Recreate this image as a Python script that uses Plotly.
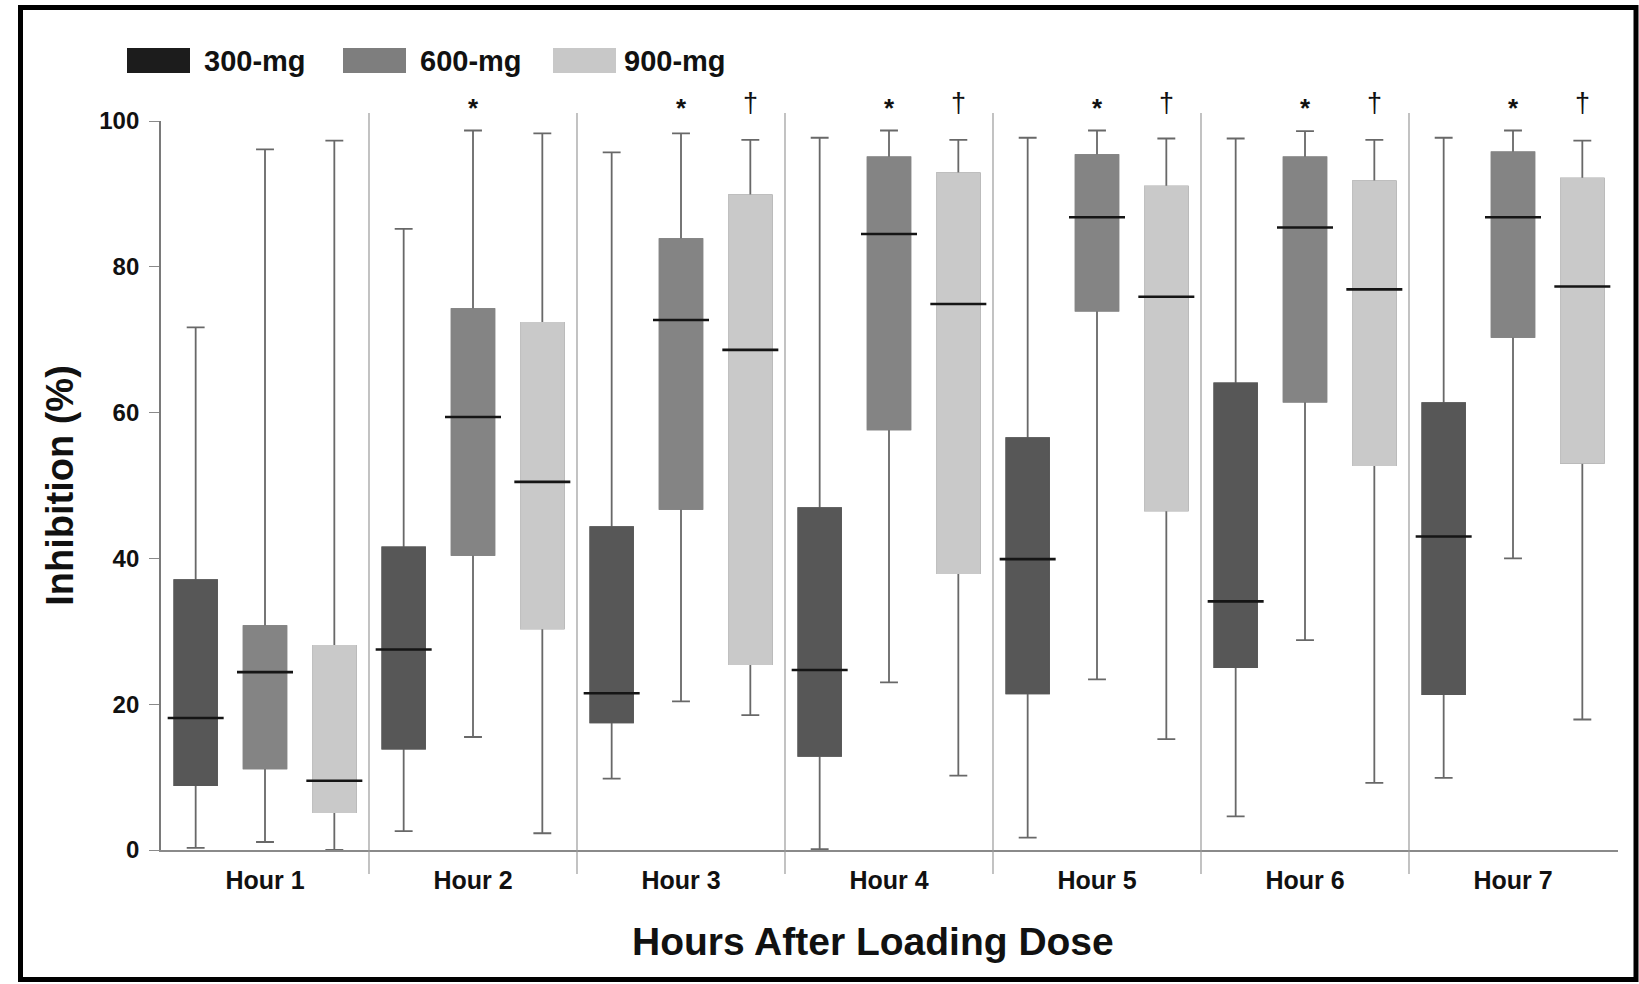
import plotly.graph_objects as go

# ---------------- data ----------------
hours = [1, 2, 3, 4, 5, 6, 7]
hour_labels = ["Hour 1", "Hour 2", "Hour 3", "Hour 4", "Hour 5", "Hour 6", "Hour 7"]
doses = ["300-mg", "600-mg", "900-mg"]

upper_300 = [71.7, 85.2, 95.7, 97.7, 97.7, 97.6, 97.7]
q3_300 = [37.0, 41.5, 44.3, 46.9, 56.5, 64.0, 61.3]
median_300 = [18.1, 27.5, 21.5, 24.7, 39.9, 34.1, 43.0]
q1_300 = [8.9, 13.9, 17.5, 12.9, 21.5, 25.1, 21.4]
lower_300 = [0.3, 2.6, 9.8, 0.1, 1.7, 4.6, 9.9]

upper_600 = [96.1, 98.7, 98.3, 98.7, 98.7, 98.6, 98.7]
q3_600 = [30.7, 74.2, 83.8, 95.0, 95.3, 95.0, 95.7]
median_600 = [24.4, 59.4, 72.7, 84.5, 86.8, 85.4, 86.8]
q1_600 = [11.2, 40.5, 46.8, 57.7, 74.0, 61.5, 70.4]
lower_600 = [1.1, 15.5, 20.4, 23.0, 23.4, 28.8, 40.0]

upper_900 = [97.3, 98.3, 97.4, 97.4, 97.6, 97.4, 97.3]
q3_900 = [28.0, 72.3, 89.8, 92.8, 91.0, 91.7, 92.1]
median_900 = [9.5, 50.5, 68.6, 74.9, 75.9, 76.9, 77.3]
q1_900 = [5.2, 30.4, 25.5, 38.0, 46.6, 52.8, 53.1]
lower_900 = [0.0, 2.3, 18.5, 10.2, 15.2, 9.2, 17.9]

star_hours = [2, 3, 4, 5, 6, 7]      # "*" over the 600-mg box
dagger_hours = [3, 4, 5, 6, 7]       # "†" over the 900-mg box

y_ticks = [0, 20, 40, 60, 80, 100]
x_title = "Hours After Loading Dose"
y_title = "Inhibition (%)"

# ---------------- styles ----------------
box_colors = ["#575757", "#848484", "#c9c9c9"]
legend_colors = ["#1c1c1c", "#7e7e7e", "#c8c8c8"]
whisker_color = "#686868"
offsets = [-1 / 3, 0.0, 1 / 3]
box_width = 0.205
FONT = "Liberation Sans, Arial, sans-serif"

W, H = 1639, 984
L, R, T, B = 161, 1618, 121, 850


def px(x):
    return (x - L) / (R - L)


def py(y):
    return (B - y) / (B - T)


series = [
    (upper_300, q3_300, median_300, q1_300, lower_300),
    (upper_600, q3_600, median_600, q1_600, lower_600),
    (upper_900, q3_900, median_900, q1_900, lower_900),
]

fig = go.Figure()
for i, (up, q3, med, q1, lo) in enumerate(series):
    xs = [h + offsets[i] for h in hours]
    # whiskers + box
    fig.add_trace(go.Box(
        name=doses[i], x=xs, q1=q1, median=med, q3=q3,
        lowerfence=lo, upperfence=up,
        width=box_width, whiskerwidth=0.42,
        fillcolor=box_colors[i],
        line=dict(color=whisker_color, width=1.8),
        boxpoints=False, showlegend=False, hoverinfo="skip",
    ))
    # borderless fill over the box body (reference boxes have no outline)
    fig.add_trace(go.Box(
        name=doses[i], x=xs, q1=q1, median=med, q3=q3,
        lowerfence=q1, upperfence=q3,
        width=box_width, whiskerwidth=0,
        fillcolor=box_colors[i],
        line=dict(color=box_colors[i], width=1.8),
        boxpoints=False, showlegend=False, hoverinfo="skip",
    ))
    # black median bars
    fig.add_trace(go.Scatter(
        x=xs, y=med, mode="markers", showlegend=False, hoverinfo="skip",
        marker=dict(symbol="line-ew", size=40, color="black",
                    line=dict(color="#151515", width=2.6)),
    ))

annotations = []
for h in star_hours:
    annotations.append(dict(x=h + offsets[1], y=py(108), xref="x", yref="paper",
                            text="*", showarrow=False,
                            font=dict(family=FONT, size=26, color="#111", weight="bold"),
                            yanchor="middle"))
for h in dagger_hours:
    annotations.append(dict(x=h + offsets[2], y=py(103), xref="x", yref="paper",
                            text="†", showarrow=False,
                            font=dict(family=FONT, size=27, color="#111"),
                            yanchor="middle"))

# axis title along x (slightly left of centre, as in the reference)
annotations.append(dict(x=px(873), y=py(941), xref="paper", yref="paper",
                        text=x_title, showarrow=False, xanchor="center", yanchor="middle",
                        font=dict(family=FONT, size=39, color="#111", weight="bold")))

# legend (swatches + labels)
shapes = []
sw_x = [127, 343, 553]
txt_x = [202, 418, 622]
for i, d in enumerate(doses):
    shapes.append(dict(type="rect", xref="paper", yref="paper",
                       x0=px(sw_x[i]), x1=px(sw_x[i] + 63),
                       y0=py(73), y1=py(48),
                       fillcolor=legend_colors[i], line=dict(width=0)))
    annotations.append(dict(x=px(txt_x[i]), y=py(61), xref="paper", yref="paper",
                            text=d, showarrow=False, xanchor="left", yanchor="middle",
                            font=dict(family=FONT, size=29, color="#111", weight="bold")))

# group separators
for h in hours[:-1]:
    shapes.append(dict(type="line", xref="x", yref="paper",
                       x0=h + 0.5, x1=h + 0.5, y0=py(874), y1=py(113),
                       line=dict(color="#9a9a9a", width=1.2)))

# outer frame
shapes.append(dict(type="rect", xref="paper", yref="paper",
                   x0=px(20.5), x1=px(1636), y0=py(979.5), y1=py(7.5),
                   line=dict(color="black", width=5), fillcolor="rgba(0,0,0,0)"))

fig.update_layout(
    width=W, height=H,
    margin=dict(l=L, r=W - R, t=T, b=H - B),
    paper_bgcolor="white", plot_bgcolor="white",
    boxmode="overlay",
    showlegend=False,
    font=dict(family=FONT, color="#111"),
    shapes=shapes,
    annotations=annotations,
    xaxis=dict(
        range=[0.5, 0.5 + (R - L) / 208], tickvals=hours, ticktext=hour_labels,
        showline=True, linecolor="#8a8a8a", linewidth=2,
        ticks="", showgrid=False, zeroline=False,
        ticklabelstandoff=7,
        tickfont=dict(family=FONT, size=25, color="#111", weight="bold"),
    ),
    yaxis=dict(
        range=[0, 100], tickvals=y_ticks,
        showline=True, linecolor="#7a7a7a", linewidth=1.8,
        ticks="outside", ticklen=10, tickcolor="#8a8a8a", tickwidth=1.2,
        showgrid=False, zeroline=False,
        ticklabelstandoff=5,
        tickfont=dict(family=FONT, size=24, color="#111", weight="bold"),
        title=dict(text=y_title, standoff=14,
                   font=dict(family=FONT, size=38, color="#111", weight="bold")),
    ),
)

fig.write_html("out.html", config={"displayModeBar": False},
               post_script="document.body.style.margin='0';document.body.style.overflow='hidden';")
